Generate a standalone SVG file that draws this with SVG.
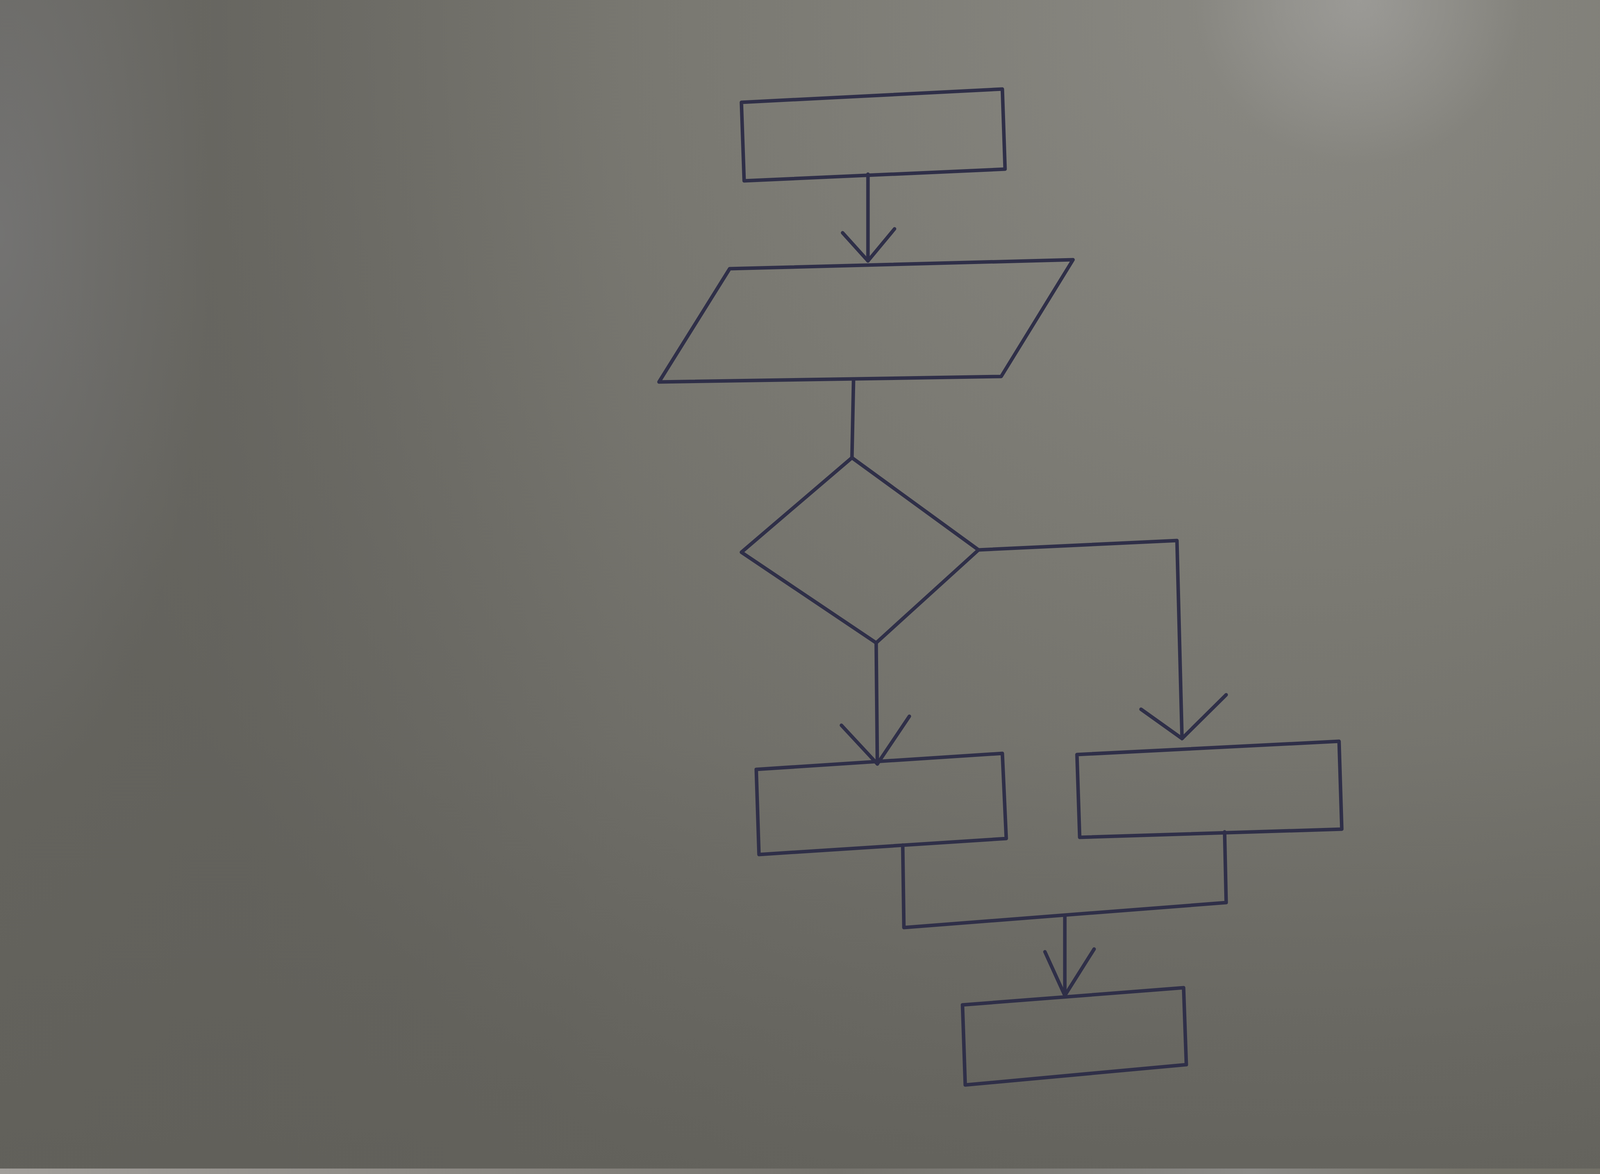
<svg xmlns="http://www.w3.org/2000/svg" width="5344" height="3006" viewBox="0 0 5344 3006">
<defs>
<style>
.ink{fill:none;stroke:#2f2f48;stroke-width:9;stroke-linejoin:round;stroke-linecap:round}
</style>
<radialGradient id="light" cx="3300" cy="0" r="3400" gradientUnits="userSpaceOnUse">
<stop offset="0" stop-color="#8a8983"/>
<stop offset="0.45" stop-color="#7a7972"/>
<stop offset="0.8" stop-color="#6d6c66"/>
<stop offset="1" stop-color="#66655f"/>
</radialGradient>
<linearGradient id="leftdark" x1="0" y1="0" x2="1600" y2="0" gradientUnits="userSpaceOnUse">
<stop offset="0" stop-color="#5f5e59" stop-opacity="0.2"/>
<stop offset="0.35" stop-color="#5f5e59" stop-opacity="0.4"/>
<stop offset="1" stop-color="#5f5e59" stop-opacity="0"/>
</linearGradient>
<radialGradient id="leftlight" cx="0" cy="600" r="900" gradientUnits="userSpaceOnUse" gradientTransform="translate(0 600) scale(0.6 1.6) translate(0 -600)">
<stop offset="0" stop-color="#85858a" stop-opacity="0.45"/>
<stop offset="1" stop-color="#85858a" stop-opacity="0"/>
</radialGradient>
<linearGradient id="botdark" x1="0" y1="1900" x2="0" y2="2992" gradientUnits="userSpaceOnUse">
<stop offset="0" stop-color="#5e5d57" stop-opacity="0"/>
<stop offset="1" stop-color="#5e5d57" stop-opacity="0.45"/>
</linearGradient>
<radialGradient id="spot" cx="3480" cy="0" r="420" gradientUnits="userSpaceOnUse">
<stop offset="0" stop-color="#a3a29f" stop-opacity="0.7"/>
<stop offset="1" stop-color="#a3a29f" stop-opacity="0"/>
</radialGradient>
<linearGradient id="rightband" x1="4822" y1="0" x2="5344" y2="0" gradientUnits="userSpaceOnUse">
<stop offset="0" stop-color="#7f7e7b" stop-opacity="0.4"/>
<stop offset="0.12" stop-color="#6f6e68" stop-opacity="0.25"/>
<stop offset="1" stop-color="#6f6e68" stop-opacity="0.15"/>
</linearGradient>
<linearGradient id="strip" x1="0" y1="0" x2="5344" y2="0" gradientUnits="userSpaceOnUse">
<stop offset="0" stop-color="#a29f9b"/>
<stop offset="0.2" stop-color="#8d8a85"/>
<stop offset="0.4" stop-color="#75736d"/>
<stop offset="0.6" stop-color="#8a8986"/>
<stop offset="0.7" stop-color="#76746b"/>
<stop offset="0.9" stop-color="#6c6b63"/>
<stop offset="1" stop-color="#5f5e59"/>
</linearGradient>
</defs>
<g id="background">
<rect x="0" y="0" width="5344" height="3006" fill="url(#light)"/>
<rect x="0" y="0" width="5344" height="3006" fill="url(#leftdark)"/>
<rect x="0" y="0" width="5344" height="3006" fill="url(#leftlight)"/>
<rect x="0" y="0" width="5344" height="3006" fill="url(#botdark)"/>
<rect x="0" y="0" width="5344" height="3006" fill="url(#spot)"/>
<rect x="4822" y="0" width="522" height="2992" fill="url(#rightband)"/>
<rect x="0" y="2992" width="5344" height="14" fill="url(#strip)"/>
</g>
<g id="connectors">
<path class="ink" d="M2222,446 L2222,668"/>
<path class="ink" d="M2157,596 L2222,668 L2290,586"/>
<path class="ink" d="M2185,975 L2181,1172"/>
<path class="ink" d="M2505,1408 L3013,1384 L3026,1891"/>
<path class="ink" d="M2921,1816 L3026,1891 L3139,1779"/>
<path class="ink" d="M2243,1646 L2246,1956"/>
<path class="ink" d="M2154,1857 L2246,1956 L2328,1834"/>
<path class="ink" d="M2311,2164 L2314,2375 L3139,2311 L3135,2130"/>
<path class="ink" d="M2726,2345 L2726,2549"/>
<path class="ink" d="M2675,2437 L2726,2549 L2801,2430"/>
</g>
<g id="start">
<path class="ink" d="M1898,262 L2566,228 L2573,433 L1905,463 Z"/>
</g>
<g id="input">
<path class="ink" d="M1868,688 L2747,665 L2563,964 L1687,978 Z"/>
</g>
<g id="decision">
<path class="ink" d="M2181,1172 L2505,1408 L2243,1646 L1898,1414 Z"/>
</g>
<g id="process-left">
<path class="ink" d="M1936,1970 L2566,1929 L2576,2147 L1943,2188 Z"/>
</g>
<g id="process-right">
<path class="ink" d="M2757,1932 L3428,1898 L3435,2123 L2764,2144 Z"/>
</g>
<g id="end">
<path class="ink" d="M2464,2573 L3030,2529 L3037,2726 L2471,2778 Z"/>
</g>
</svg>
